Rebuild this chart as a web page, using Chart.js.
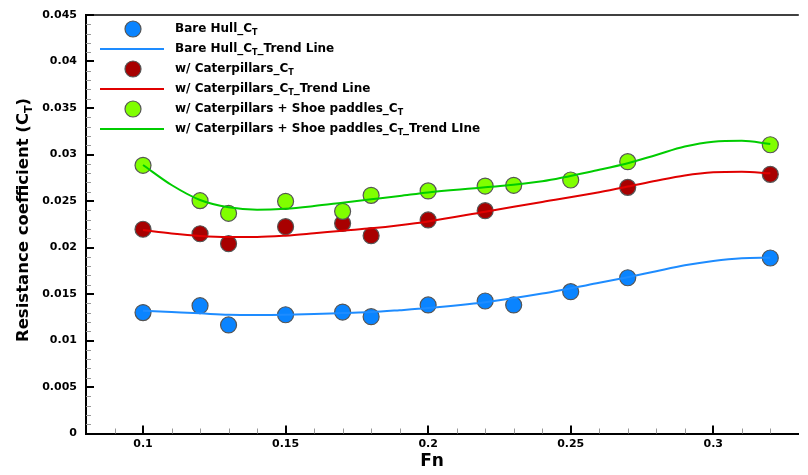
<!DOCTYPE html>
<html>
<head>
<meta charset="utf-8">
<script src="https://cdn.jsdelivr.net/npm/chart.js@4.4.1/dist/chart.umd.min.js"></script>
<style>
  html, body { margin: 0; padding: 0; background: #fff; }
  #wrap { width: 808px; height: 475px; position: relative; }
</style>
</head>
<body>
<div id="wrap"><canvas id="ctChart"></canvas></div>
<script>
// measured points
const fnBare = [0.1, 0.12, 0.13, 0.15, 0.17, 0.18, 0.2, 0.22, 0.23, 0.25, 0.27, 0.32];
const ctBare = [0.0130, 0.01374, 0.01167, 0.01277, 0.01306, 0.01256, 0.01382, 0.01425, 0.01382, 0.01525, 0.01675, 0.01887];

const fnCat = [0.1, 0.12, 0.13, 0.15, 0.17, 0.18, 0.2, 0.22, 0.27, 0.32];
const ctCat = [0.02196, 0.02148, 0.02041, 0.02224, 0.0226, 0.02127, 0.02296, 0.02396, 0.02647, 0.02787];

const fnShoe = [0.1, 0.12, 0.13, 0.15, 0.17, 0.18, 0.2, 0.22, 0.23, 0.25, 0.27, 0.32];
const ctShoe = [0.02884, 0.02503, 0.02368, 0.02497, 0.02389, 0.02561, 0.02608, 0.02661, 0.02669, 0.02726, 0.02923, 0.03105];

// trend lines
const fnTrend = [0.1, 0.11, 0.12, 0.13, 0.14, 0.15, 0.16, 0.17, 0.18, 0.19, 0.2, 0.22, 0.24, 0.26, 0.27, 0.28, 0.29, 0.3, 0.31, 0.32];
const trendBare = [0.0132, 0.01306, 0.01292, 0.01277, 0.01274, 0.01277, 0.01285, 0.01296, 0.01306, 0.01326, 0.01349, 0.01412, 0.01505, 0.0162, 0.0168, 0.01745, 0.01808, 0.01855, 0.01884, 0.0189];
const trendCat = [0.02188, 0.02151, 0.02124, 0.02113, 0.02113, 0.02127, 0.02153, 0.02181, 0.02206, 0.02239, 0.0228, 0.02385, 0.0249, 0.02595, 0.02655, 0.02718, 0.02775, 0.02809, 0.02815, 0.02798];
const trendShoe = [0.02887, 0.02672, 0.02511, 0.02432, 0.02406, 0.02417, 0.02446, 0.02482, 0.02518, 0.02554, 0.02592, 0.02647, 0.02712, 0.02835, 0.02905, 0.02995, 0.03085, 0.03138, 0.03148, 0.03113];

const xMajor = [0.1, 0.15, 0.2, 0.25, 0.3];
const xMinor = [0.09, 0.11, 0.12, 0.13, 0.14, 0.16, 0.17, 0.18, 0.19, 0.21, 0.22, 0.23, 0.24, 0.26, 0.27, 0.28, 0.29, 0.31, 0.32];
const yMajor = [0, 0.005, 0.01, 0.015, 0.02, 0.025, 0.03, 0.035, 0.04, 0.045];

const FONT = "'DejaVu Sans', sans-serif";

function pts(xs, ys) {
  return xs.map(function (x, i) { return { x: x, y: ys[i] }; });
}

function markerSet(label, xs, ys, color, order) {
  return {
    label: label,
    data: pts(xs, ys),
    showLine: false,
    backgroundColor: color,
    borderColor: "#555555",
    pointRadius: 8,
    pointBorderWidth: 1.2,
    pointBorderColor: "#555555",
    pointBackgroundColor: color,
    order: order,
  };
}

function trendSet(label, ys, color) {
  return {
    label: label,
    data: pts(fnTrend, ys),
    showLine: true,
    borderColor: color,
    borderWidth: 2,
    pointRadius: 0,
    cubicInterpolationMode: "monotone",
    fill: false,
    order: 0,
  };
}

// legend rows: [kind, color, text before sub, text after sub]
const legendRows = [
  ["dot", "#0a84ff", "Bare Hull_C", ""],
  ["line", "#1e8cff", "Bare Hull_C", "_Trend Line"],
  ["dot", "#a80000", "w/ Caterpillars_C", ""],
  ["line", "#e00000", "w/ Caterpillars_C", "_Trend Line"],
  ["dot", "#80ff00", "w/ Caterpillars + Shoe paddles_C", ""],
  ["line", "#00cc00", "w/ Caterpillars + Shoe paddles_C", "_Trend LIne"],
];

function drawSubText(ctx, x, y, main, after, size) {
  ctx.font = "bold " + size + "px " + FONT;
  ctx.fillText(main, x, y);
  x += ctx.measureText(main).width;
  ctx.font = "bold " + Math.round(size * 0.66) + "px " + FONT;
  ctx.fillText("T", x, y + size * 0.3);
  x += ctx.measureText("T").width;
  if (after) {
    ctx.font = "bold " + size + "px " + FONT;
    ctx.fillText(after, x, y);
  }
}

function subTextWidth(ctx, main, after, size) {
  ctx.font = "bold " + size + "px " + FONT;
  let w = ctx.measureText(main).width + ctx.measureText(after).width;
  ctx.font = "bold " + Math.round(size * 0.66) + "px " + FONT;
  return w + ctx.measureText("T").width;
}

const decorPlugin = {
  id: "decor",
  afterDraw: function (chart) {
    const ctx = chart.ctx;
    const area = chart.chartArea;
    const xs = chart.scales.x;
    const ys = chart.scales.y;
    ctx.save();

    // top frame line
    ctx.strokeStyle = "#000";
    ctx.lineWidth = 1.5;
    ctx.beginPath();
    ctx.moveTo(area.left, area.top);
    ctx.lineTo(area.right, area.top);
    ctx.stroke();

    // inward ticks
    ctx.lineWidth = 1;
    ctx.strokeStyle = "#999";
    xMinor.forEach(function (v) {
      const px = Math.round(xs.getPixelForValue(v)) + 0.5;
      ctx.beginPath();
      ctx.moveTo(px, area.bottom);
      ctx.lineTo(px, area.bottom - 5);
      ctx.stroke();
    });
    for (let i = 1; i < 45; i++) {
      if (i % 5 === 0) continue;
      const py = Math.round(ys.getPixelForValue(i / 1000)) + 0.5;
      ctx.beginPath();
      ctx.moveTo(area.left, py);
      ctx.lineTo(area.left + 5, py);
      ctx.stroke();
    }
    ctx.strokeStyle = "#000";
    ctx.lineWidth = 2;
    xMajor.forEach(function (v) {
      const px = Math.round(xs.getPixelForValue(v));
      ctx.beginPath();
      ctx.moveTo(px, area.bottom);
      ctx.lineTo(px, area.bottom - 8);
      ctx.stroke();
    });
    yMajor.forEach(function (v) {
      const py = Math.round(ys.getPixelForValue(v));
      ctx.beginPath();
      ctx.moveTo(area.left, py);
      ctx.lineTo(area.left + 8, py);
      ctx.stroke();
    });

    // axis titles
    ctx.fillStyle = "#000";
    ctx.textBaseline = "middle";
    ctx.textAlign = "center";
    ctx.font = "bold 17px " + FONT;
    ctx.fillText("Fn", 432, 462);

    ctx.textAlign = "left";
    ctx.save();
    ctx.translate(24, 220);
    ctx.rotate(-Math.PI / 2);
    const tw = subTextWidth(ctx, "Resistance coefficient (C", ")", 16.5);
    drawSubText(ctx, -tw / 2, 0, "Resistance coefficient (C", ")", 16.5);
    ctx.restore();

    // legend
    legendRows.forEach(function (row, i) {
      const y = 29 + i * 20;
      if (row[0] === "dot") {
        ctx.beginPath();
        ctx.arc(133, y, 8, 0, Math.PI * 2);
        ctx.fillStyle = row[1];
        ctx.fill();
        ctx.lineWidth = 1.2;
        ctx.strokeStyle = "#555";
        ctx.stroke();
      } else {
        ctx.beginPath();
        ctx.moveTo(100, y);
        ctx.lineTo(164, y);
        ctx.lineWidth = 2;
        ctx.strokeStyle = row[1];
        ctx.stroke();
      }
      ctx.fillStyle = "#000";
      drawSubText(ctx, 175, y, row[2], row[3], 12);
    });

    ctx.restore();
  },
};

const ctx = document.getElementById("ctChart").getContext("2d");
new Chart(ctx, {
  type: "scatter",
  data: {
    datasets: [
      trendSet("Bare Hull_CT_Trend Line", trendBare, "#1e8cff"),
      trendSet("w/ Caterpillars_CT_Trend Line", trendCat, "#e00000"),
      trendSet("w/ Caterpillars + Shoe paddles_CT_Trend LIne", trendShoe, "#00cc00"),
      markerSet("w/ Caterpillars + Shoe paddles_CT", fnShoe, ctShoe, "#80ff00", 1),
      markerSet("w/ Caterpillars_CT", fnCat, ctCat, "#a80000", 2),
      markerSet("Bare Hull_CT", fnBare, ctBare, "#0a84ff", 3),
    ],
  },
  options: {
    responsive: true,
    maintainAspectRatio: false,
    animation: false,
    layout: { padding: { top: 15, right: 0, left: 0, bottom: 0 } },
    plugins: {
      legend: { display: false },
      tooltip: { enabled: false },
    },
    scales: {
      x: {
        type: "linear",
        min: 0.08,
        max: 0.33,
        grid: { display: false },
        border: { display: true, color: "#000", width: 2 },
        afterBuildTicks: function (scale) {
          scale.ticks = xMajor.map(function (v) { return { value: v }; });
        },
        afterFit: function (scale) { scale.height = 41.5; },
        ticks: {
          color: "#000",
          padding: -4,
          maxRotation: 0,
          font: { family: FONT, size: 11, weight: "bold" },
          callback: function (v) { return String(Number(v.toFixed(2))); },
        },
      },
      y: {
        min: 0,
        max: 0.045,
        grid: { display: false },
        border: { display: true, color: "#000", width: 2 },
        afterBuildTicks: function (scale) {
          scale.ticks = yMajor.map(function (v) { return { value: v }; });
        },
        afterFit: function (scale) { scale.width = 86; },
        ticks: {
          color: "#000",
          padding: 1,
          font: { family: FONT, size: 11, weight: "bold" },
          callback: function (v) { return String(Number(v.toFixed(3))); },
        },
      },
    },
  },
  plugins: [decorPlugin],
});
</script>
</body>
</html>
